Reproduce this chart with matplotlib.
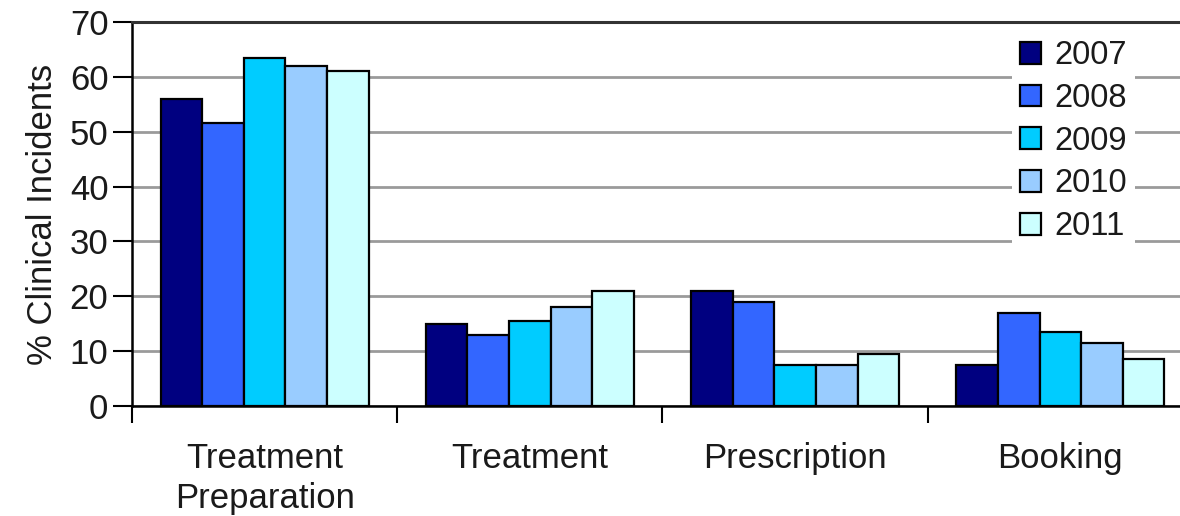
import matplotlib
matplotlib.use("Agg")
import matplotlib.pyplot as plt
import numpy as np

categories = ["Treatment\nPreparation", "Treatment", "Prescription", "Booking"]
years = ["2007", "2008", "2009", "2010", "2011"]
values_2007 = [56, 15, 21, 7.5]
values_2008 = [51.5, 13, 19, 17]
values_2009 = [63.5, 15.5, 7.5, 13.5]
values_2010 = [62, 18, 7.5, 11.5]
values_2011 = [61, 21, 9.5, 8.5]
series = [values_2007, values_2008, values_2009, values_2010, values_2011]
colors = ["#000080", "#3366FF", "#00CCFF", "#99CCFF", "#CCFFFF"]
y_ticks = [0, 10, 20, 30, 40, 50, 60, 70]

plt.rcParams["font.family"] = ["Liberation Sans", "DejaVu Sans"]

fig = plt.figure(figsize=(11.8, 5.16), dpi=100)
ax = fig.add_axes([132 / 1180, 110 / 516, 1061 / 1180, 384 / 516])

n = len(series)
bar_w = 0.157
x = np.arange(len(categories))
for i, (vals, col, yr) in enumerate(zip(series, colors, years)):
    offs = (i - (n - 1) / 2) * bar_w
    ax.bar(x + offs, vals, width=bar_w, color=col, edgecolor="black",
           linewidth=1.6, label=yr, zorder=3)

ax.set_xlim(-0.5, len(categories) - 0.5)
ax.set_ylim(0, 70)
ax.set_yticks(y_ticks)
ax.set_yticklabels([str(t) for t in y_ticks], fontsize=25, color="#1a1a1a")
ax.yaxis.grid(True, color="#9a9a9a", linewidth=2, zorder=0)
ax.set_axisbelow(True)

# category boundaries get tick marks, centers carry the labels
ax.set_xticks(np.arange(len(categories) + 1) - 0.5)
ax.set_xticklabels([])
ax.set_xticks(x, minor=True)
ax.set_xticklabels(categories, minor=True, fontsize=25, color="#1a1a1a",
                   linespacing=1.25)
ax.tick_params(axis="x", which="major", length=12, width=1.5, direction="out")
ax.tick_params(axis="x", which="minor", length=0, pad=26)
ax.tick_params(axis="y", length=14, width=1.5, direction="out", pad=3)

ax.set_ylabel("% Clinical Incidents", fontsize=25, color="#1a1a1a", labelpad=8)

for side in ["left", "bottom"]:
    ax.spines[side].set_linewidth(1.8)
    ax.spines[side].set_color("black")
ax.spines["top"].set_color("#333333")
ax.spines["top"].set_linewidth(2.2)
ax.spines["right"].set_visible(False)

leg = ax.legend(loc="upper left", bbox_to_anchor=(1012 / 1180, 484 / 516),
                bbox_transform=fig.transFigure, fontsize=23.5, frameon=True,
                fancybox=False, edgecolor="none", facecolor="white",
                framealpha=1, handlelength=0.65, handleheight=0.65,
                handletextpad=0.4, labelspacing=0.36, borderpad=0.25,
                borderaxespad=0)
for t in leg.get_texts():
    t.set_color("#1a1a1a")
leg.set_zorder(5)

fig.savefig("out.png", dpi=100)
